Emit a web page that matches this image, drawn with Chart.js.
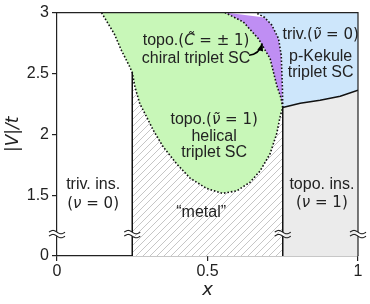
<!DOCTYPE html>
<html><head><meta charset="utf-8">
<script src="https://cdn.jsdelivr.net/npm/chart.js@4/dist/chart.umd.min.js"></script>
<style>html,body{margin:0;padding:0;background:#fff}#wrap{width:370px;height:304px}</style>
</head><body><div id="wrap"><canvas id="c" width="370" height="304"></canvas></div>
<script>
// ---- axes ----
const X_MIN = 0, X_MAX = 1, Y_MIN = 1, Y_MAX = 3;   // y axis is broken: bottom value labelled "0"
const xTickValues = [0, 0.5, 1];
const xTickLabels = ['0', '0.5', '1'];
const yTickValues = [1, 1.5, 2, 2.5, 3];
const yTickLabels = ['0', '1.5', '2', '2.5', '3'];
const BREAK_Y = 1.18;
const breakXs = [0, 0.25, 0.75, 1];

// ---- phase boundaries ----
// dotted boundary of the helical/chiral SC region, from the top edge down and back up to x = 0.75
const helicalX = [0.148, 0.190, 0.214, 0.242, 0.250, 0.259, 0.275, 0.298, 0.320, 0.353, 0.397, 0.442, 0.497, 0.550, 0.597, 0.641, 0.675, 0.708, 0.730, 0.741, 0.750];
const helicalY = [3.000, 2.827, 2.690, 2.553, 2.507, 2.389, 2.252, 2.142, 2.033, 1.896, 1.759, 1.640, 1.555, 1.515, 1.535, 1.605, 1.700, 1.841, 2.006, 2.142, 2.220];
// dotted boundary green | purple (from x=0.75 tip up to top edge)
const gpX = [0.750, 0.744, 0.730, 0.708, 0.669, 0.619, 0.558];
const gpY = [2.220, 2.300, 2.403, 2.622, 2.786, 2.923, 3.000];
// dotted boundary purple | blue
const pbX = [0.750, 0.749, 0.745, 0.736, 0.714, 0.690, 0.660];
const pbY = [2.220, 2.376, 2.649, 2.786, 2.896, 2.960, 3.000];
// solid boundary blue | grey
const bgX = [0.750, 0.808, 0.874, 0.941, 1.000];
const bgY = [2.220, 2.255, 2.279, 2.312, 2.362];
// solid vertical phase lines
const wallX = [0.25, 0.75];

const pts = (xs, ys) => xs.map((v, i) => ({x: v, y: ys[i]}));
const helical = pts(helicalX, helicalY);
const gp = pts(gpX, gpY);
const pb = pts(pbX, pbY);
const bg = pts(bgX, bgY);
const rev = a => a.slice().reverse();

const greenPoly = helical.concat(gp.slice(1));
const purplePoly = gp.concat(rev(pb).slice(1));
const bluePoly = pb.concat([{x: X_MAX, y: Y_MAX}], rev(bg));
const greyPoly = [{x: wallX[1], y: Y_MIN}].concat(bg, [{x: X_MAX, y: Y_MIN}]);
const hatchPoly = [{x: wallX[0], y: Y_MIN}].concat(helical.filter(p => p.x >= wallX[0]), [{x: wallX[1], y: Y_MIN}]);
const wallTop0 = helical.find(p => p.x >= wallX[0]).y;
const wallTop1 = bgY[0];

const canvas = document.getElementById('c');
const ctx0 = canvas.getContext('2d');
function hatchPattern() {
  const n = 7, c = document.createElement('canvas');
  c.width = c.height = n;
  const g = c.getContext('2d');
  g.fillStyle = '#ffffff'; g.fillRect(0, 0, n, n);
  g.strokeStyle = '#b8b8b8'; g.lineWidth = 0.8;
  [[-1, n + 1, n + 1, -1], [-1, 1, 1, -1], [n - 1, n + 1, n + 1, n - 1]].forEach(s => {
    g.beginPath(); g.moveTo(s[0], s[1]); g.lineTo(s[2], s[3]); g.stroke();
  });
  return ctx0.createPattern(c, 'repeat');
}

const fillDs = (data, color) => ({data, fill: 'shape', backgroundColor: color, borderColor: 'rgba(0,0,0,0)', borderWidth: 0, pointRadius: 0, tension: 0, order: 10});
const lineDs = (data, dotted) => ({data, fill: false, borderColor: '#111', borderWidth: dotted ? 1.6 : 1.5, borderDash: dotted ? [1.6, 1.9] : [], pointRadius: 0, tension: 0, order: 1});

const S = '16px "Liberation Sans", Arial, sans-serif';
const M = '15px "DejaVu Sans", sans-serif';
const MI = 'italic 15px "DejaVu Sans", sans-serif';
const labels = [
  {x: 0.462, y: 2.775, runs: [['topo.', S], ['(', M], ['C\u0303', MI], [' = \u00b1 1)', M]]},
  {x: 0.462, y: 2.633, runs: [['chiral triplet SC', S]]},
  {x: 0.522, y: 2.129, runs: [['topo.', S], ['(', M], ['\u03bd\u0303', MI], [' = 1)', M]]},
  {x: 0.522, y: 1.992, runs: [['helical', S]]},
  {x: 0.522, y: 1.855, runs: [['triplet SC', S]]},
  {x: 0.120, y: 1.595, runs: [['triv. ins.', S]]},
  {x: 0.120, y: 1.439, runs: [['(', M], ['\u03bd', MI], [' = 0)', M]]},
  {x: 0.479, y: 1.362, runs: [['\u201cmetal\u201d', S]]},
  {x: 0.880, y: 1.595, runs: [['topo. ins.', S]]},
  {x: 0.880, y: 1.444, runs: [['(', M], ['\u03bd', MI], [' = 1)', M]]},
  {x: 0.876, y: 2.827, runs: [['triv.', S], ['(', M], ['\u03bd\u0303', MI], [' = 0)', M]]},
  {x: 0.876, y: 2.649, runs: [['p-Kekule', S]]},
  {x: 0.876, y: 2.520, runs: [['triplet SC', S]]}
];
const arrow = {from: {x: 0.638, y: 2.649}, ctrl: {x: 0.671, y: 2.657}, to: {x: 0.681, y: 2.735}};

const annot = {
  id: 'annot',
  afterDatasetsDraw(chart) {
    const {ctx, chartArea: a, scales: {x, y}} = chart;
    ctx.save();
    // top and right frame
    ctx.strokeStyle = '#222'; ctx.lineWidth = 1.2;
    ctx.beginPath(); ctx.moveTo(a.left, a.top); ctx.lineTo(a.right, a.top); ctx.lineTo(a.right, a.bottom); ctx.stroke();
    // axis breaks
    const py = y.getPixelForValue(BREAK_Y);
    breakXs.forEach(bx => {
      const px = x.getPixelForValue(bx);
      ctx.fillStyle = '#fff';
      ctx.fillRect(px - 1.5, py - 2, 3, 4);
      ctx.strokeStyle = '#222'; ctx.lineWidth = 1.1;
      [-2, 2].forEach(d => {
        ctx.beginPath();
        for (let t = -8; t <= 8; t += 0.5) {
          const yy = py + d - 1.7 * Math.sin(Math.PI * (t + 8) / 8);
          if (t === -8) ctx.moveTo(px + t, yy); else ctx.lineTo(px + t, yy);
        }
        ctx.stroke();
      });
    });
    // arrow
    const P = p => [x.getPixelForValue(p.x), y.getPixelForValue(p.y)];
    const [x0, y0] = P(arrow.from), [xc, yc] = P(arrow.ctrl), [x1, y1] = P(arrow.to);
    ctx.strokeStyle = '#000'; ctx.lineWidth = 1.6;
    ctx.beginPath(); ctx.moveTo(x0, y0); ctx.quadraticCurveTo(xc, yc, x1, y1); ctx.stroke();
    const ang = Math.atan2(y1 - yc, x1 - xc), L = 6, W = 3;
    ctx.fillStyle = '#000';
    ctx.beginPath();
    ctx.moveTo(x1 + Math.cos(ang) * 2, y1 + Math.sin(ang) * 2);
    ctx.lineTo(x1 - Math.cos(ang) * L + Math.sin(ang) * W, y1 - Math.sin(ang) * L - Math.cos(ang) * W);
    ctx.lineTo(x1 - Math.cos(ang) * L - Math.sin(ang) * W, y1 - Math.sin(ang) * L + Math.cos(ang) * W);
    ctx.closePath(); ctx.fill();
    // labels
    ctx.fillStyle = '#222'; ctx.textBaseline = 'alphabetic'; ctx.textAlign = 'left';
    labels.forEach(l => {
      let w = 0;
      l.runs.forEach(r => { ctx.font = r[1]; w += ctx.measureText(r[0]).width; });
      let cx = x.getPixelForValue(l.x) - w / 2;
      const by = y.getPixelForValue(l.y) + 5.5;
      l.runs.forEach(r => { ctx.font = r[1]; ctx.fillText(r[0], cx, by); cx += ctx.measureText(r[0]).width; });
    });
    ctx.restore();
  }
};

new Chart(canvas, {
  type: 'line',
  data: {datasets: [
    fillDs(greyPoly, '#ebebeb'),
    fillDs(hatchPoly, hatchPattern()),
    fillDs(bluePoly, '#cde6fb'),
    fillDs(purplePoly, '#bf8ef3'),
    fillDs(greenPoly, '#c8f7b8'),
    lineDs([{x: wallX[0], y: Y_MIN}, {x: wallX[0], y: wallTop0}], false),
    lineDs([{x: wallX[1], y: Y_MIN}, {x: wallX[1], y: wallTop1}], false),
    lineDs(bg, false),
    lineDs(helical, true),
    lineDs(gp, true),
    lineDs(pb, true)
  ]},
  options: {
    responsive: false, animation: false, devicePixelRatio: 1,
    layout: {padding: {top: 12, right: 12, left: 0, bottom: 0}},
    plugins: {legend: {display: false}, tooltip: {enabled: false}},
    scales: {
      x: {
        type: 'linear', min: X_MIN, max: X_MAX,
        afterBuildTicks: s => { s.ticks = xTickValues.map(v => ({value: v})); },
        afterFit: s => { s.height = 48; },
        grid: {display: true, drawOnChartArea: false, drawTicks: true, tickLength: 5, color: '#222', lineWidth: 1.2},
        border: {display: true, color: '#222', width: 1.2},
        ticks: {callback: (v, i) => xTickLabels[i], font: {family: '"Liberation Sans", Arial', size: 16}, color: '#222', padding: 1, maxRotation: 0, autoSkip: false},
        title: {display: true, text: 'x', font: {family: '"DejaVu Sans"', style: 'italic', size: 18}, color: '#222', padding: {top: 0, bottom: 3}}
      },
      y: {
        type: 'linear', min: Y_MIN, max: Y_MAX,
        afterBuildTicks: s => { s.ticks = yTickValues.map(v => ({value: v})); },
        afterFit: s => { s.width = 57; },
        grid: {display: true, drawOnChartArea: false, drawTicks: true, tickLength: 5, color: '#222', lineWidth: 1.2},
        border: {display: true, color: '#222', width: 1.2},
        ticks: {callback: (v, i) => yTickLabels[i], font: {family: '"Liberation Sans", Arial', size: 16}, color: '#222', padding: 3, autoSkip: false},
        title: {display: true, text: '|V|/t', font: {family: '"DejaVu Sans"', style: 'italic', size: 17}, color: '#222', padding: {top: 3, bottom: 0}}
      }
    }
  },
  plugins: [annot]
});
</script></body></html>
